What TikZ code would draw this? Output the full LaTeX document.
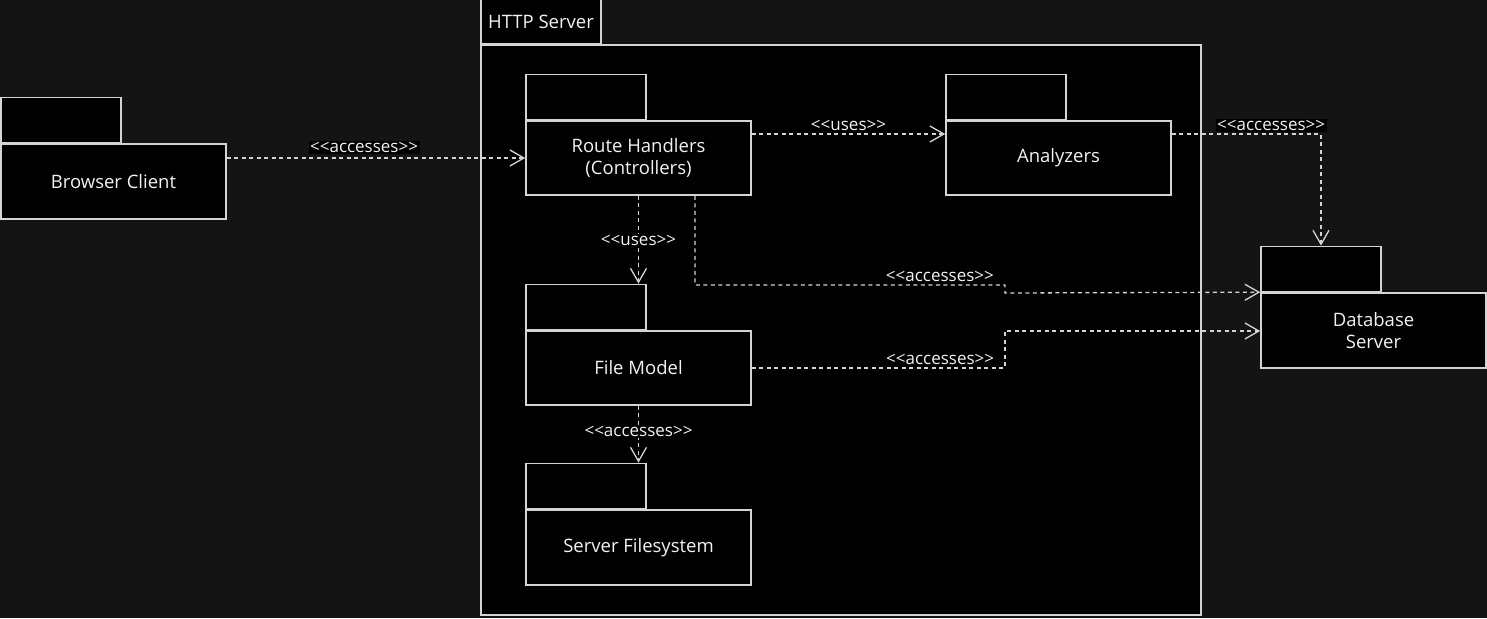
\documentclass[tikz,border=0pt]{standalone}
\usepackage{fontspec}
\setmainfont{Open Sans}
\usetikzlibrary{arrows.meta,positioning}
\definecolor{canvas}{HTML}{141414}
\definecolor{edge}{HTML}{D4D4D4}
\definecolor{ink}{HTML}{F2F2F2}
\newcommand{\stereo}[1]{<\kern0pt<#1>\kern0pt>}

\begin{document}
\begin{tikzpicture}[
    x=1pt, y=-1pt,
    pkg/.style={rectangle, draw=edge, fill=black, line width=1.6pt, minimum width=225pt, minimum height=75pt, inner sep=0pt, text=ink, align=center, font=\fontsize{18.5}{22}\selectfont},
    tab/.style={rectangle, draw=edge, fill=black, line width=1.6pt, minimum width=120pt, minimum height=45pt, inner sep=0pt, anchor=south west},
    line/.style={draw=edge, line width=1.3pt, dash pattern=on 4pt off 3.5pt, -{Straight Barb[length=14pt, width=16pt, line width=1.3pt]}},
    lbl/.style={text=ink, fill=black, inner sep=1.5pt, font=\fontsize{17}{19}\selectfont}
]
\fill[canvas] (0,0) rectangle (1487,618);
\useasboundingbox (0,0) rectangle (1487,618);

% Define nodes
\node[rectangle, draw=edge, fill=black, line width=1.6pt, minimum width=720pt, minimum height=570pt, inner sep=0pt] (httpserver) at (841,330) {};
\node[tab, minimum height=44pt, text=ink, font=\fontsize{18.5}{20}\selectfont] (httptab) at (httpserver.north west) {HTTP Server};

\node[pkg] (browser) at (113.5,181.5) {Browser Client};
\node[tab] (browsertab) at (browser.north west) {};

\node[pkg, minimum height=74pt] (routes) at (638.5,158) {Route Handlers\\(Controllers)};
\node[tab] (routestab) at (routes.north west) {};

\node[pkg, minimum height=74pt] (analyzers) at (1058.5,158) {Analyzers};
\node[tab] (analyzerstab) at (analyzers.north west) {};

\node[pkg] (database) at (1373.5,330.5) {Database\\Server};
\node[tab] (databasetab) at (database.north west) {};

\node[pkg, minimum height=74pt] (filemodel) at (638.5,368) {File Model};
\node[tab] (filemodeltab) at (filemodel.north west) {};

\node[pkg] (filesystem) at (638.5,547.5) {Server Filesystem};
\node[tab] (filesystemtab) at (filesystem.north west) {};

% Connect nodes
\draw [line] (browser.east |- 0,158) -- node[lbl, above=3pt, pos=0.46] {\stereo{accesses}} (routes.west);
\draw [line] (routes.east |- 0,134) -- node[lbl, above=1pt] {\stereo{uses}} (analyzers.west |- 0,134);
\draw [line] (analyzers.east |- 0,134) -| node[lbl, above=1pt, pos=0.333] {\stereo{accesses}} (databasetab.north -| 1321,0);
\draw [line] (routes.south) -- node[lbl, pos=0.51] {\stereo{uses}} (filemodeltab.north -| routes.south);
\draw [line] (routes.south -| 695,0) -- (695,285) -- node[lbl, above=1pt, pos=0.79] {\stereo{accesses}} (1005,285) -- (1005,293) -- (database.north west);
\draw [line] (filemodel.east) -- node[lbl, above=1pt, pos=0.744] {\stereo{accesses}} (1005,368) -- (1005,331) -- (database.west |- 0,331);
\draw [line] (filemodel.south) -- node[lbl, pos=0.45] {\stereo{accesses}} (filesystemtab.north -| filemodel.south);

\end{tikzpicture}
\end{document}
